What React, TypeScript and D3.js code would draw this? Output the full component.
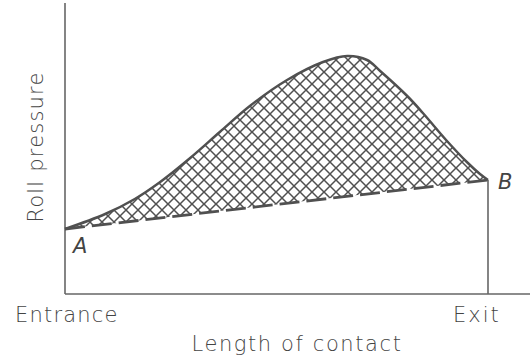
import React from "react";
import * as d3 from "d3";

// Roll pressure distribution along the length of contact (arbitrary units)
const contactPosition = [0, 0.095, 0.165, 0.225, 0.296, 0.366, 0.437, 0.525, 0.61, 0.667, 0.714, 0.745, 0.809, 0.846, 0.903, 0.95, 0.981, 1];
const rollPressure = [65, 80, 95, 112, 136, 162, 188, 214, 232, 238, 234, 223, 198, 181, 153, 132, 120, 114];
// Dashed line A–B (yield-stress baseline)
const baselinePosition = [0, 1];
const baselinePressure = [65, 114];
const xTickLabels = ["Entrance", "Exit"];
const pointLabels = ["A", "B"];

const W = 530;
const H = 357;
const x0 = 65;
const x1 = 488;
const yBottom = 294;

export default function App() {
  const x = d3.scaleLinear().domain([0, 1]).range([x0, x1]);
  const y = d3.scaleLinear().domain([0, 290]).range([yBottom, 4]);

  const curvePts: [number, number][] = contactPosition.map((p, i) => [p, rollPressure[i]]);
  const basePts: [number, number][] = baselinePosition.map((p, i) => [p, baselinePressure[i]]);

  const curve = d3.curveCatmullRom.alpha(0.5);
  const line = d3
    .line<[number, number]>()
    .x((d) => x(d[0]))
    .y((d) => y(d[1]))
    .curve(curve);
  const straight = d3
    .line<[number, number]>()
    .x((d) => x(d[0]))
    .y((d) => y(d[1]));

  const baseInterp = d3.scaleLinear().domain(baselinePosition).range(baselinePressure);
  const area = d3
    .area<[number, number]>()
    .x((d) => x(d[0]))
    .y0((d) => y(baseInterp(d[0])))
    .y1((d) => y(d[1]))
    .curve(curve);

  const stroke = "#505050";
  const font = "'DejaVu Sans', sans-serif";

  return (
    <svg width={W} height={H} style={{ position: "absolute", left: 0, top: 0, background: "#fff" }}>
      <defs>
        <pattern id="hatch" patternUnits="userSpaceOnUse" width={12} height={12}>
          <path d="M-1,-1 L13,13 M13,-1 L-1,13" stroke="#505050" strokeWidth={1.5} />
        </pattern>
      </defs>
      {/* hatched region */}
      <path d={area(curvePts) || ""} fill="url(#hatch)" />
      {/* axes */}
      <line x1={x0} y1={3} x2={x0} y2={yBottom} stroke="#666" strokeWidth={1.6} />
      <line x1={x0} y1={yBottom} x2={W} y2={yBottom} stroke="#666" strokeWidth={1.6} />
      <line x1={x1} y1={y(baselinePressure[1])} x2={x1} y2={yBottom} stroke="#666" strokeWidth={1.6} />
      {/* pressure curve */}
      <path d={line(curvePts) || ""} fill="none" stroke={stroke} strokeWidth={2.5} />
      {/* dashed baseline */}
      <path d={straight(basePts) || ""} fill="none" stroke={stroke} strokeWidth={2.8} strokeDasharray="20 7" />
      {/* point labels */}
      <text x={x(0) + 8} y={y(baselinePressure[0]) + 24} fontFamily={font} fontStyle="italic" fontSize={21} fill="#444" fontWeight={300}>
        {pointLabels[0]}
      </text>
      <text x={x(1) + 10} y={y(baselinePressure[1]) + 9} fontFamily={font} fontStyle="italic" fontSize={21} fill="#444" fontWeight={300}>
        {pointLabels[1]}
      </text>
      {/* x tick labels */}
      <text x={15} y={322} fontFamily={font} fontSize={21} fill="#444" fontWeight={300} letterSpacing={1.2}>
        {xTickLabels[0]}
      </text>
      <text x={453} y={322} fontFamily={font} fontSize={21} fill="#444" fontWeight={300} letterSpacing={2}>
        {xTickLabels[1]}
      </text>
      {/* axis titles */}
      <text x={297} y={351} textAnchor="middle" fontFamily={font} fontSize={21} fill="#444" fontWeight={300} letterSpacing={1.6}>
        Length of contact
      </text>
      <text transform={`translate(43,147) rotate(-90)`} textAnchor="middle" fontFamily={font} fontSize={21} fill="#444" fontWeight={300} letterSpacing={1.2}>
        Roll pressure
      </text>
    </svg>
  );
}
